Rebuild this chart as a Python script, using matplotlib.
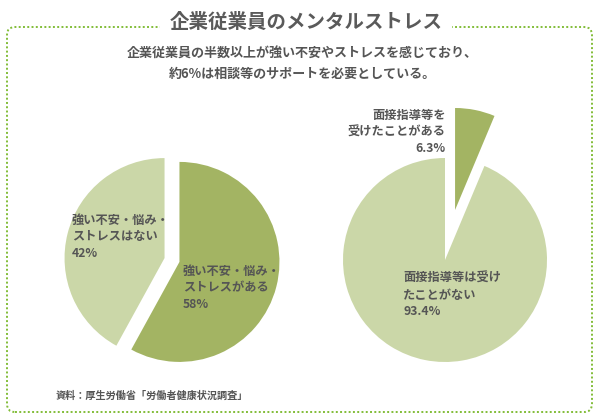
import matplotlib.pyplot as plt
from matplotlib.patches import FancyBboxPatch

plt.rcParams['font.family'] = ['Noto Sans CJK JP', 'DejaVu Sans']

# data
stress_labels = ['強い不安・悩み・\nストレスがある', '強い不安・悩み・\nストレスはない']
stress_values = [58, 42]
guidance_labels = ['面接指導等を\n受けたことがある', '面接指導等は受け\nたことがない']
guidance_values = [6.3, 93.4]

dark = '#a3b463'
light = '#cbd7a8'
txt = '#555555'
H = 419

fig = plt.figure(figsize=(6, 4.19), dpi=100)
ax = fig.add_axes([0, 0, 1, 1])

ax.pie(stress_values, colors=[dark, light], startangle=90, counterclock=False,
       radius=100, center=(172, H - 260), explode=[7.7, 7.7])
ax.pie(guidance_values, colors=[dark, light], startangle=90, counterclock=False,
       radius=102, center=(445, H - 260), explode=[51, 0])

ax.set_xlim(0, 600)
ax.set_ylim(0, H)
ax.set_aspect('equal')
ax.axis('off')

# frame
box = FancyBboxPatch((7, 7), 585, 385, boxstyle='round,pad=0,rounding_size=8',
                     fill=False, edgecolor='#82bd38', linewidth=1.4,
                     linestyle=(0, (1, 1.2)))
ax.add_patch(box)

ax.text(306, H - 22, '企業従業員のメンタルストレス', ha='center', va='center',
        fontsize=14, fontweight='bold', color='#5a5a5a',
        bbox=dict(facecolor='white', edgecolor='none', pad=7))
ax.text(302, H - 64, '企業従業員の半数以上が強い不安やストレスを感じており、\n約6%は相談等のサポートを必要としている。',
        ha='center', va='center', fontsize=9.4, fontweight='bold', color=txt,
        linespacing=1.55)

# labels
def lab(x, y, name, v, ha='left'):
    ax.text(x, H - y, f'{name}\n{v:g}%', ha=ha, va='top', fontsize=8.8,
            fontweight='bold', color=txt, linespacing=1.35)

lab(72, 214, stress_labels[1], stress_values[1])
lab(183, 265, stress_labels[0], stress_values[0])
lab(446, 109, guidance_labels[0], guidance_values[0], ha='right')
lab(403, 272, guidance_labels[1], guidance_values[1])

ax.text(56, H - 396, '資料：厚生労働省「労働者健康状況調査」', ha='left', va='center',
        fontsize=7.3, fontweight='bold', color='#555555')

fig.savefig('out.png', dpi=100)
